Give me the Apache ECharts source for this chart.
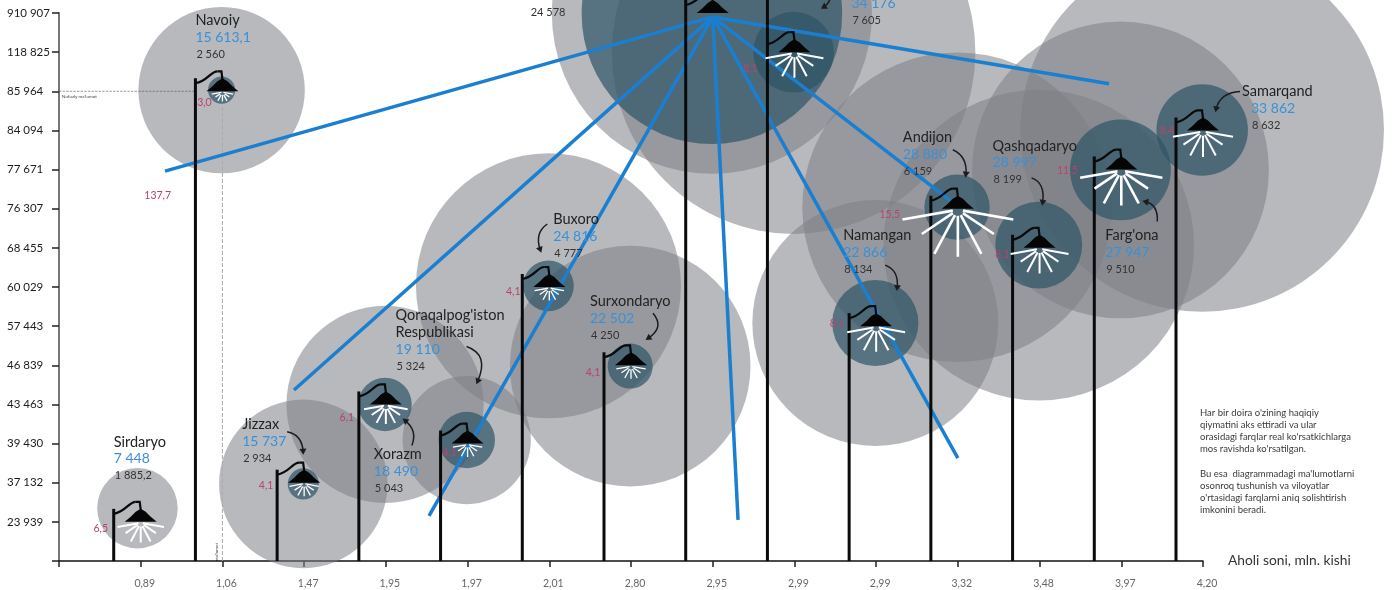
<!DOCTYPE html>
<html><head><meta charset="utf-8">
<style>html,body{margin:0;padding:0;background:#fff;overflow:hidden}#c{width:1397px;height:590px}</style>
<script src="https://cdn.jsdelivr.net/npm/echarts@6/dist/echarts.min.js"></script>
</head><body><div id="c"></div>
<script>
const xLabels = ['', '0,89', '1,06', '1,47', '1,95', '1,97', '2,01', '2,80', '2,95', '2,99', '2,99', '3,32', '3,48', '3,97', '4,20'];
const yLabels = ['', '23 939', '37 132', '39 430', '43 463', '46 839', '57 443', '60 029', '68 455', '76 307', '77 671', '84 094', '85 964', '118 825', '910 907'];

const regions = ['Sirdaryo', 'Navoiy', 'Jizzax', 'Xorazm', "Qoraqalpog'iston\nRespublikasi", 'Buxoro', 'Surxondaryo', '', '', 'Namangan', 'Andijon', 'Qashqadaryo', "Farg'ona", 'Samarqand'];
const xRank = [1, 2, 3, 4, 5, 6, 7, 8, 9, 10, 11, 12, 13, 14];
const yRank = [1, 12, 2, 4, 3, 7, 5, 14, 13, 6, 9, 8, 10, 11];
const blueValues = [7448, 15613.1, 15737, 18490, 19110, 24816, 22502, null, 34176, 22866, 28880, 28997, 27947, 33862];
const blackValues = [1885.2, 2560, 2934, 5043, 5324, 4777, 4250, 24578, 7605, 8134, 6159, 8199, 9510, 8632];
const redValues = [6.5, 3.0, 4.1, 6.1, 4.1, 4.1, 4.1, 137.7, 8.1, 8.1, 15.5, 8.1, 11.5, 8.4];
const outerValues = [7600, 15700, 15900, 18600, 12100, 25000, 22700, 30200, 34300, 23200, 29200, 29300, 28000, 34300];
const outerY = [1.35, 12.03, 1.97, 4, 3.09, 7.03, 4.98, 13.98, 13, 6.08, 9.04, 8.07, 9.99, 11.01];
const capitalRayOrigin = [8, 13.9];
const capitalRayEnds = [[1.297, 9.96], [2.876, 4.369], [4.528, 1.15], [8.31, 1.05], [11.0, 2.63], [10.9, 9.22], [12.85, 12.19]];
const noteLines = ["Har bir doira o'zining haqiqiy", "qiymatini aks ettiradi va ular", "orasidagi farqlar real ko'rsatkichlarga", "mos ravishda ko'rsatilgan.", "", "Bu esa  diagrammadagi ma'lumotlarni", "osonroq tushunish va viloyatlar", "o'rtasidagi farqlarni aniq solishtirish", "imkonini beradi."];

// layout (pixel offsets from each lamp)
const labelOffset = [[-27,-80],[-27,-71],[-62,-58],[-12,50],[-72,-128],[4,-68],[-41,-64],[-183,-35],[57,-66],[-33,-91],[-55,-71],[-47,-102],[-16,66],[39,-39]];
const labelIndent = [0,0,0,0,0,0,0,0,0,0,0,0,0,9];
const redOffset = [[-40,7],[-18,11],[-38,3],[-39,13],[-18,9],[-36,5],[-38,7],[-555,183],[-44,16],[-39,-3],[-68,6],[-37,7],[-54,1],[-36,0]];
const arrows = [null,null,[[-17,-51],[-2,-48],[-1,-31]],[[26,41],[32,26],[19,16]],[[-1,-97],[22,-89],[10,-62]],[[-2,-63],[-15,-54],[-9,-37]],[[22,-52],[34,-38],[17,-27]],null,[[36,-57],[36,-49],[29,-45]],[[9,-61],[23,-56],[21,-38]],[[-5,-59],[10,-52],[8,-34]],[[-8,-70],[6,-65],[3,-45]],[[36,52],[37,35],[24,32]],[[37,-39],[17,-38],[13,-21]]];
const postTop = [-13,-13,-13,-13,-13,-13,-13,-13,-60,-13,-13,-13,-13,-13];

const FONT = 'Lato, "Open Sans", sans-serif';
const RADIUS_PER_UNIT = 0.0053, RAY_PER_UNIT = 3.3;
const fmt = v => { const p = String(v).split('.'); return p[0].replace(/\B(?=(\d{3})+$)/g, ' ') + (p[1] ? ',' + p[1] : ''); };
const rows = xRank.map((x, k) => [x, yRank[k], k]);
const t = (x, y, text, fill, font, extra) => ({ type: 'text', x, y, silent: true, style: Object.assign({ text, fill, font, textAlign: 'left', textVerticalAlign: 'middle' }, extra || {}) });

const chart = echarts.init(document.getElementById('c'), null, { renderer: 'canvas' });

function lamp(params, api) {
  const k = api.value(2), c = api.coord([api.value(0), api.value(1)]), cx = c[0], cy = c[1];
  const kids = [];
  const stroke = (w, col) => ({ stroke: col || '#0a0a0a', lineWidth: w, fill: null, lineCap: 'butt' });
  kids.push({ type: 'line', shape: { x1: cx - 27, y1: cy + postTop[k], x2: cx - 27, y2: api.coord([0, 0])[1] }, style: stroke(3) });
  kids.push({ type: 'bezierCurve', shape: { x1: cx - 27, y1: cy - 8, cpx1: cx - 15, cpy1: cy - 10, cpx2: cx - 12, cpy2: cy - 20, x2: cx - 5, y2: cy - 20 }, style: stroke(2.2) });
  kids.push({ type: 'polyline', shape: { points: [[cx - 5, cy - 20], [cx - 1, cy - 20], [cx, cy - 12]] }, style: stroke(2.2) });
  kids.push({ type: 'polygon', shape: { points: [[cx - 16, cy], [cx - 10, cy - 5], [cx - 5, cy - 10], [cx, cy - 13], [cx + 5, cy - 10], [cx + 10, cy - 5], [cx + 16, cy]] }, style: { fill: '#050505' } });
  const red = redValues[k];
  if (red < 50) {
    const L = red * RAY_PER_UNIT, w = L < 20 ? 1.3 : L < 30 ? 2 : 2.6;
    [-80, -56, -28, 0, 28, 56, 80].forEach((a, n) => {
      const f = [1.1, 0.85, 0.98, 0.92, 0.98, 0.85, 1.1][n], rad = a * Math.PI / 180;
      const r0 = Math.abs(a) === 80 ? 0.1 * L : 0.08 * L + 2;
      kids.push({ type: 'line', shape: { x1: cx + Math.sin(rad) * r0, y1: cy + 1 + Math.cos(rad) * r0, x2: cx + Math.sin(rad) * L * f, y2: cy + 1 + Math.cos(rad) * L * f }, style: stroke(w, '#fff') });
    });
  }
  return { type: 'group', children: kids };
}

function annotation(params, api) {
  const k = api.value(2), c = api.coord([api.value(0), api.value(1)]), cx = c[0], cy = c[1];
  const kids = [];
  const off = labelOffset[k], lines = regions[k].split('\n');
  let y = cy + off[1], x = cx + off[0];
  lines.forEach(s => { if (s) kids.push(t(x, y, s, '#222', '14.5px ' + FONT)); y += 17; });
  x += labelIndent[k];
  if (blueValues[k] != null) kids.push(t(x, y, fmt(blueValues[k]), '#3a90d8', '14px ' + FONT));
  y += 17;
  kids.push(t(x + 1, y, fmt(blackValues[k]), '#333', '11px ' + FONT));
  kids.push(t(cx + redOffset[k][0], cy + redOffset[k][1], redValues[k].toFixed(1).replace('.', ','), '#b8436d', '10.5px ' + FONT, { textAlign: 'center' }));
  const a = arrows[k];
  if (a) {
    const P = p => [cx + p[0], cy + p[1]], s = P(a[0]), q = P(a[1]), e = P(a[2]);
    kids.push({ type: 'bezierCurve', shape: { x1: s[0], y1: s[1], cpx1: q[0], cpy1: q[1], x2: e[0], y2: e[1] }, style: { stroke: '#1c1c1c', lineWidth: 1.5, fill: null } });
    const dx = e[0] - q[0], dy = e[1] - q[1], n = Math.hypot(dx, dy) || 1, ux = dx / n, uy = dy / n;
    kids.push({ type: 'polygon', shape: { points: [[e[0] + ux * 3, e[1] + uy * 3], [e[0] - ux * 3 - uy * 3.5, e[1] - uy * 3 + ux * 3.5], [e[0] - ux * 3 + uy * 3.5, e[1] - uy * 3 - ux * 3.5]] }, style: { fill: '#1c1c1c' } });
  }
  return { type: 'group', children: kids };
}

const circle = (data, color, z) => ({
  type: 'scatter', data, z, clip: false, silent: true, animation: false,
  symbol: 'circle', symbolSize: v => v[2] * RADIUS_PER_UNIT * 2,
  itemStyle: { color, borderWidth: 0, opacity: 1 }, emphasis: { disabled: true }
});
const line = (data, style, z) => ({
  type: 'line', data, z, symbol: 'none', silent: true, clip: false, animation: false,
  lineStyle: style, emphasis: { disabled: true }
});

chart.setOption({
  animation: false,
  backgroundColor: '#fff',
  grid: { left: 59, right: 194, top: 13, bottom: 29, containLabel: false },
  tooltip: { show: false },
  xAxis: {
    type: 'value', min: 0, max: 14, interval: 1, splitLine: { show: false },
    name: 'Aholi soni, mln. kishi', nameLocation: 'end', nameGap: 25,
    nameTextStyle: { color: '#333', fontSize: 13.8, fontFamily: FONT, verticalAlign: 'middle', padding: [0, 0, 0, 0] },
    axisLine: { onZero: false, lineStyle: { color: '#111', width: 1.5 } },
    axisTick: { length: 6, lineStyle: { color: '#222', width: 1.5 } },
    axisLabel: { formatter: v => xLabels[v], color: '#666', fontSize: 10.5, fontFamily: FONT, margin: 17, padding: [0, 0, 0, 8] }
  },
  yAxis: {
    type: 'value', min: 0, max: 14, interval: 1, splitLine: { show: false },
    axisLine: { onZero: false, lineStyle: { color: '#777', width: 2 } },
    axisTick: { length: 7, lineStyle: { color: '#222', width: 1.5 } },
    axisLabel: { formatter: v => yLabels[v], color: '#1c1c1c', fontSize: 11.5, fontFamily: FONT, margin: 52, align: 'left' }
  },
  series: [
    circle(xRank.map((x, k) => [x - (k === 0 ? 0.04 : 0.01), outerY[k], outerValues[k]]), 'rgba(125,128,133,0.55)', 3),
    circle(xRank.map((x, k) => [x - 0.01, outerY[k], blackValues[k]]).filter((r, k) => k !== 0), 'rgba(46,84,102,0.7)', 4),
    line([[0, 12], [1.664, 12]], { color: '#555', width: 0.6, type: 'dashed' }, 5),
    line([[2, 0], [2, 11.6]], { color: '#aaa', width: 1, type: 'dashed' }, 5),
    ...capitalRayEnds.map(e => line([capitalRayOrigin, e], { color: '#1a7fd0', width: 3.5, cap: 'butt' }, 6)),
    { type: 'custom', z: 7, silent: true, clip: false, animation: false, renderItem: lamp, data: rows },
    { type: 'custom', z: 8, silent: true, clip: false, animation: false, renderItem: annotation, data: rows }
  ],
  graphic: [
    ...noteLines.map((s, n) => ({ type: 'text', left: 1200, top: 408 + n * 12.1, silent: true, style: { text: s, fill: '#3a3a3a', font: '9.5px ' + FONT } })),
    { type: 'text', left: 62, top: 94, silent: true, style: { text: "Nufuzly ma'lumot", fill: '#444', font: '4.5px ' + FONT } },
    { type: 'text', left: 214, top: 543, rotation: Math.PI / 2, silent: true, style: { text: "ma'lumot", fill: '#444', font: '4.5px ' + FONT } }
  ]
});
</script></body></html>
